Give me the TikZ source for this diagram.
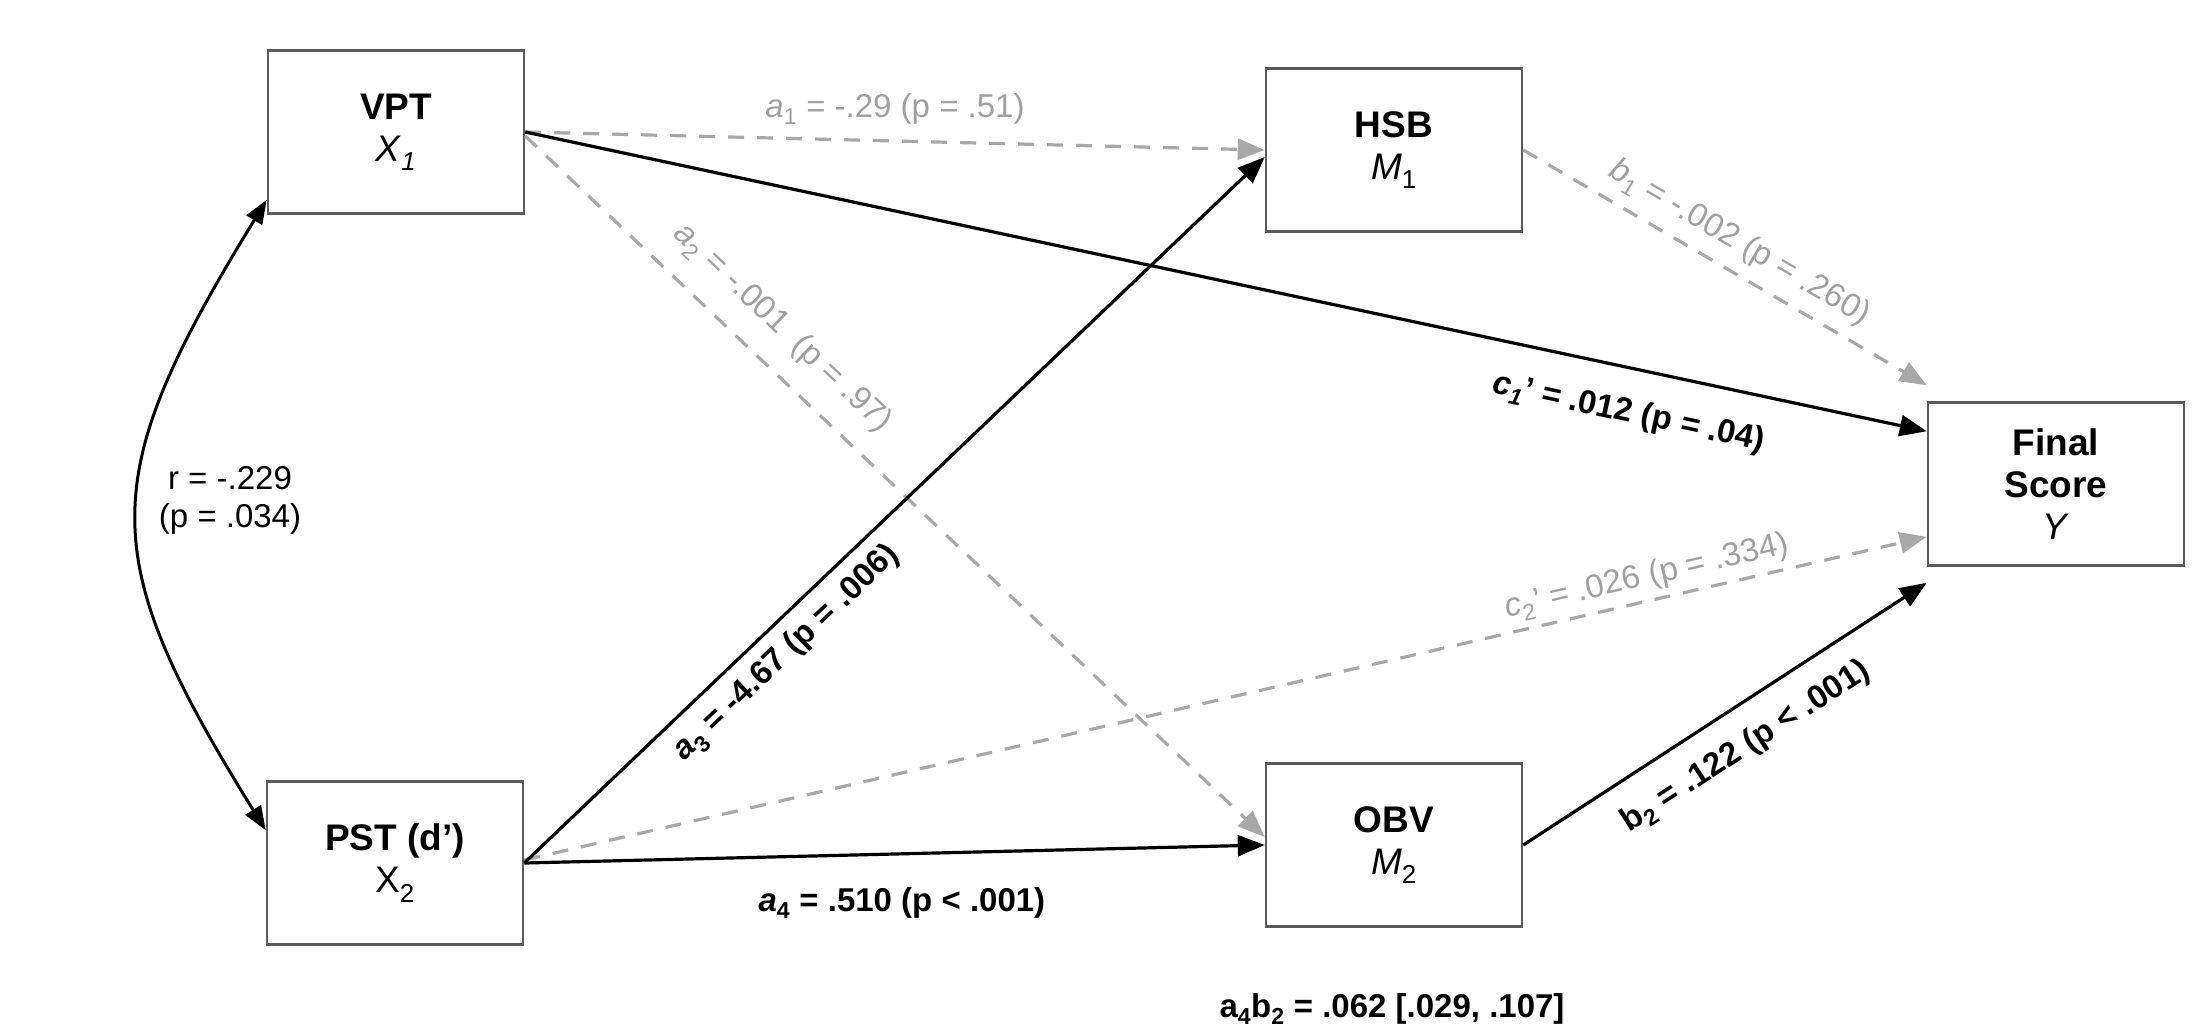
\documentclass[tikz,border=0pt]{standalone}
\usepackage{fontspec}
\setmainfont{Liberation Sans}
\usetikzlibrary{arrows.meta,calc}
\definecolor{boxline}{RGB}{90,90,90}
\definecolor{dashgray}{RGB}{168,168,168}
\definecolor{labgray}{RGB}{160,160,160}
\begin{document}
\begin{tikzpicture}[x=1pt,y=-1pt,
  varbox/.style={draw=boxline,line width=2.5pt,minimum width=256pt,minimum height=163pt,inner sep=0pt,align=center,font=\fontsize{37}{42}\selectfont},
  sig/.style={draw=black,line width=3.2pt,-{Triangle[length=27pt,width=21pt]}},
  nonsig/.style={draw=dashgray,line width=3.2pt,dash pattern=on 16pt off 13pt,-{Triangle[length=27pt,width=21pt,fill=dashgray]}},
  corr/.style={draw=black,line width=3pt,{Triangle[length=24pt,width=18pt]}-{Triangle[length=24pt,width=18pt]}},
  lab/.style={inner sep=0pt,font=\fontsize{33}{38}\selectfont},
  glab/.style={lab,text=labgray},
  blab/.style={lab,font=\fontsize{33}{38}\selectfont\bfseries},
]
\useasboundingbox (0,0) rectangle (2193,1036);

% variables
\node[varbox] (VPT) at (396,132) {\textbf{VPT}\\\textit{X}\textsubscript{\textit{1}}};
\node[varbox] (PST) at (395,863) {\textbf{PST (d')}\\X\textsubscript{2}};
\node[varbox] (HSB) at (1394,150) {\textbf{HSB}\\\textit{M}\textsubscript{1}};
\node[varbox] (OBV) at (1394,845) {\textbf{OBV}\\\textit{M}\textsubscript{2}};
\node[varbox] (FIN) at (2056,484) {\textbf{Final}\\\textbf{Score}\\\textit{Y}};

% arrow end points
\coordinate (a2end) at ([yshift=8pt]OBV.west);
\coordinate (a3end) at ([yshift=-7pt]HSB.west);
\coordinate (b1end) at ([yshift=16pt]FIN.north west);
\coordinate (c1end) at ([yshift=-30pt]FIN.north west);
\coordinate (c2end) at ([yshift=30pt]FIN.south west);
\coordinate (b2end) at ([yshift=-16pt]FIN.south west);
\coordinate (rtop) at ([yshift=15pt]VPT.south west);
\coordinate (rbot) at ([yshift=-50pt]PST.north west);
\coordinate (vptout) at ([yshift=-4pt]VPT.east);
\coordinate (pstout) at ([yshift=3pt]PST.east);

% non-significant paths
\draw[nonsig] (VPT.east) -- node[glab,above=15pt] {\textit{a}\textsubscript{1} = -.29 (p = .51)} (HSB.west);
\draw[nonsig] (vptout) -- node[glab,sloped,above=20pt,pos=0.313] {\textit{a}\textsubscript{2} = -.001\ \ (p = .97)} (a2end);
\draw[nonsig] (HSB.east) -- node[glab,sloped,above=11pt,pos=0.5] {\textit{b}\textsubscript{1} = -.002 (p = .260)} (b1end);
\draw[nonsig] (pstout) -- node[glab,sloped,above=6pt,pos=0.804] {\textit{c}\textsubscript{2}' = .026 (p = .334)} (c2end);

% significant paths
\draw[sig] (VPT.east) -- node[blab,sloped,below=28pt,pos=0.794] {\textit{c}\textsubscript{\textit{1}}' = .012 (p = .04)} (c1end);
\draw[sig] (PST.east) -- node[blab,sloped,below=12pt,pos=0.327] {\textit{a}\textsubscript{3} = -4.67 (p = .006)} (a3end);
\draw[sig] (PST.east) -- node[blab,below=32pt,pos=0.51] {\textit{a}\textsubscript{4} = .510 (p < .001)} (OBV.west);
\draw[sig] (OBV.east) -- node[blab,sloped,below=22pt,pos=0.5] {b\textsubscript{2} = .122 (p < .001)} (b2end);

% correlation
\draw[corr] (rtop) .. controls (95,480) and (95,555) .. (rbot);
\node[lab,align=center] (rlab) at (230,500) {r = -.229\\(p = .034)};

% indirect effect
\node[blab] (ind) at (1392,1009) {a\textsubscript{4}b\textsubscript{2} = .062 [.029, .107]};
\end{tikzpicture}
\end{document}
